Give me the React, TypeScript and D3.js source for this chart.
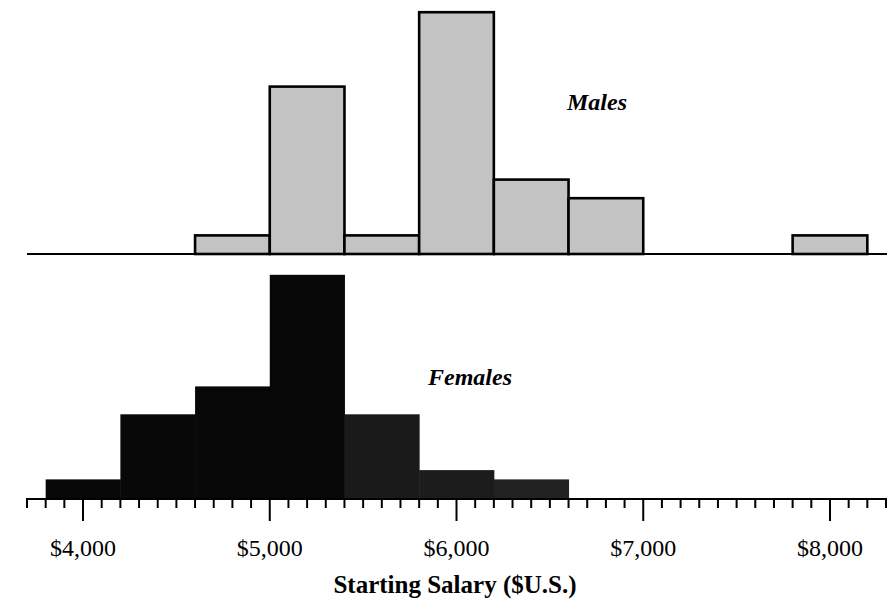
import React from "react";
import * as d3 from "d3";

// Bin edges (lower bound of each $400 bin) and counts
const maleBins = [4600, 5000, 5400, 5800, 6200, 6600, 7800];
const maleCounts = [2, 18, 2, 26, 8, 6, 2];
const femaleBins = [3800, 4200, 4600, 5000, 5400, 5800, 6200];
const femaleCounts = [2, 9, 12, 24, 9, 3, 2];
const femaleFills = ["#080808", "#080808", "#080808", "#080808", "#1a1a1a", "#1c1c1c", "#222222"];
const binWidth = 400;
const majorTicks = [4000, 5000, 6000, 7000, 8000];
const majorLabels = ["$4,000", "$5,000", "$6,000", "$7,000", "$8,000"];
const minorTicks = d3.range(3700, 8301, 100);
const axisTitle = "Starting Salary ($U.S.)";

const W = 887;
const H = 601;
const FONT = "'Liberation Serif', 'Times New Roman', Times, serif";

export default function App() {
  const x = d3.scaleLinear().domain([3700, 8300]).range([27, 886]);
  const unit = 9.3;
  const maleBase = 254;
  const femaleBase = 498;
  const yMale = d3.scaleLinear().domain([0, 26]).range([maleBase, maleBase - 26 * unit]);
  const yFemale = d3.scaleLinear().domain([0, 26]).range([femaleBase, femaleBase - 26 * unit]);

  return (
    <svg
      width={W}
      height={H}
      style={{ position: "absolute", left: 0, top: 0, background: "#fff" }}
      fontFamily={FONT}
    >
      <rect x={0} y={0} width={W} height={H} fill="#fff" />
      {/* Males */}
      {maleBins.map((b, i) => (
        <rect
          key={"m" + i}
          x={x(b)}
          y={yMale(maleCounts[i])}
          width={x(b + binWidth) - x(b)}
          height={yMale(0) - yMale(maleCounts[i])}
          fill="#c3c3c3"
          stroke="#000"
          strokeWidth={2.6}
        />
      ))}
      <line x1={x(3700)} x2={W} y1={maleBase} y2={maleBase} stroke="#000" strokeWidth={2} />
      <text x={597} y={110} textAnchor="middle" fontSize={24} fontWeight="bold" fontStyle="italic">
        Males
      </text>

      {/* Females */}
      {femaleBins.map((b, i) => (
        <rect
          key={"f" + i}
          x={x(b)}
          y={yFemale(femaleCounts[i])}
          width={x(b + binWidth) - x(b) + 0.5}
          height={yFemale(0) - yFemale(femaleCounts[i])}
          fill={femaleFills[i]}
        />
      ))}
      <text x={470} y={385} textAnchor="middle" fontSize={24} fontWeight="bold" fontStyle="italic">
        Females
      </text>

      {/* Axis */}
      <line x1={x(3700) - 1} x2={W} y1={499} y2={499} stroke="#000" strokeWidth={2.2} />
      {minorTicks.map((t) => (
        <line
          key={"t" + t}
          x1={x(t)}
          x2={x(t)}
          y1={499}
          y2={t % 1000 === 0 ? 521 : 508}
          stroke="#000"
          strokeWidth={2}
        />
      ))}
      {majorTicks.map((t, i) => (
        <text key={"l" + t} x={x(t)} y={556} textAnchor="middle" fontSize={24}>
          {majorLabels[i]}
        </text>
      ))}
      <text x={455} y={593} textAnchor="middle" fontSize={25} fontWeight="bold">
        {axisTitle}
      </text>
    </svg>
  );
}
